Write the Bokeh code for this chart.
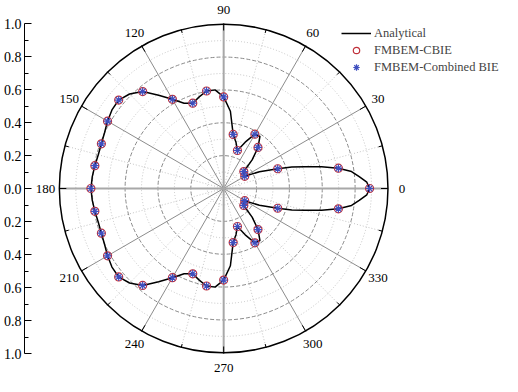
import numpy as np
from bokeh.plotting import figure
from bokeh.models import FixedTicker, CustomJSTickFormatter, Legend, LegendItem
from bokeh.core.properties import value
from bokeh.embed import file_html
from bokeh.resources import INLINE

# ---------------- data ----------------
# Analytical curve (angle in degrees, radius)
ana_deg = [0, 2.5, 5, 7.5, 10, 12.5, 15, 17.5, 20, 25, 30, 35, 40, 45, 50, 55, 60, 65,
           70, 75, 80, 85, 90, 95, 100, 105, 110, 115, 120, 125, 130, 135, 140, 145,
           150, 155, 160, 165, 170, 175, 180, 185, 190, 195, 200, 205, 210, 215, 220,
           225, 230, 235, 240, 245, 250, 255, 260, 265, 270, 275, 280, 285, 290, 295,
           300, 305, 310, 315, 320, 325, 330, 335, 340, 342.5, 345, 347.5, 350, 352.5,
           355, 357.5, 360]
ana_r = [0.888, 0.872, 0.828, 0.785, 0.709, 0.61, 0.51, 0.435, 0.35, 0.24, 0.15, 0.15,
         0.16, 0.245, 0.325, 0.385, 0.38, 0.31, 0.245, 0.29, 0.333, 0.47, 0.555, 0.60,
         0.60, 0.575, 0.55, 0.57, 0.624, 0.69, 0.767, 0.81, 0.834, 0.83, 0.816, 0.80,
         0.792, 0.79, 0.796, 0.803, 0.808, 0.803, 0.796, 0.79, 0.792, 0.80, 0.816, 0.83,
         0.834, 0.81, 0.767, 0.69, 0.624, 0.57, 0.55, 0.575, 0.60, 0.60, 0.555, 0.47,
         0.333, 0.29, 0.245, 0.31, 0.38, 0.385, 0.325, 0.245, 0.16, 0.15, 0.15, 0.24,
         0.35, 0.435, 0.51, 0.61, 0.709, 0.785, 0.828, 0.872, 0.888]

# Numerical results (same sampling for both methods)
num_deg = [0, 10, 20, 30, 40, 50, 60, 70, 80, 90, 100, 110, 120, 130, 140, 150, 160, 170,
           180, 190, 200, 210, 220, 230, 240, 250, 260, 270, 280, 290, 300, 310, 320,
           330, 340, 350]
cbie_r = [0.888, 0.709, 0.35, 0.148, 0.16, 0.325, 0.38, 0.245, 0.333, 0.555, 0.60, 0.55,
          0.624, 0.767, 0.834, 0.816, 0.792, 0.796, 0.808, 0.796, 0.792, 0.816, 0.834,
          0.767, 0.624, 0.55, 0.60, 0.555, 0.333, 0.245, 0.38, 0.325, 0.16, 0.148, 0.35,
          0.709]
comb_r = [0.888, 0.709, 0.35, 0.148, 0.16, 0.325, 0.38, 0.245, 0.333, 0.555, 0.60, 0.55,
          0.624, 0.767, 0.834, 0.816, 0.792, 0.796, 0.808, 0.796, 0.792, 0.816, 0.834,
          0.767, 0.624, 0.55, 0.60, 0.555, 0.333, 0.245, 0.38, 0.325, 0.16, 0.148, 0.35,
          0.709]

angle_ticks = [0, 30, 60, 90, 120, 150, 180, 210, 240, 270, 300, 330]
angle_labels = ["0", "30", "60", "90", "120", "150", "180", "210", "240", "270", "300", "330"]
radial_ticks = [-1.0, -0.8, -0.6, -0.4, -0.2, 0.0, 0.2, 0.4, 0.6, 0.8, 1.0]
radial_minor = [-0.9, -0.7, -0.5, -0.3, -0.1, 0.1, 0.3, 0.5, 0.7, 0.9]
grid_major = [0.2, 0.4, 0.6, 0.8]
grid_minor = [0.1, 0.3, 0.5, 0.7, 0.9]

FONT = "Liberation Serif"
PX = 165.0            # pixels per radial unit
CX, CY = 222.0, 188.0  # centre of the polar chart in canvas pixels
W, H = 502, 376
LEFT = 22

def to_xy(deg, r):
    t = np.deg2rad(np.asarray(deg, dtype=float))
    r = np.asarray(r, dtype=float)
    return r * np.cos(t), r * np.sin(t)

p = figure(width=W, height=H, output_backend="svg", toolbar_location=None,
           x_range=((LEFT - CX) / PX, (W - CX) / PX),
           y_range=(-(H - CY) / PX, CY / PX),
           x_axis_location=None, y_axis_location="left",
           min_border_left=LEFT, min_border_right=0, min_border_top=0, min_border_bottom=0)
p.outline_line_color = None
p.grid.visible = False
p.background_fill_color = "white"
p.border_fill_color = "white"

ya = p.yaxis[0]
ya.ticker = FixedTicker(ticks=radial_ticks, minor_ticks=radial_minor)
ya.formatter = CustomJSTickFormatter(code="return Math.abs(tick).toFixed(1);")
ya.bounds = (-1, 1)
ya.major_tick_in = 7
ya.major_tick_out = 0
ya.minor_tick_in = 4
ya.minor_tick_out = 0
ya.major_label_standoff = 3
ya.major_label_text_font = FONT
ya.major_label_text_font_size = "14px"
ya.major_label_text_color = "black"
ya.axis_line_color = "black"
ya.major_tick_line_color = "black"
ya.minor_tick_line_color = "black"

# radial grid circles
for r in grid_minor:
    p.circle(x=0, y=0, radius=r, fill_color=None, line_color="#c4c4c4",
             line_width=1, line_dash="1 2")
for r in grid_major:
    p.circle(x=0, y=0, radius=r, fill_color=None, line_color="#8a8a8a",
             line_width=1, line_dash="4 2")

# spokes
minor_sp = [a + 15 for a in angle_ticks]
n = len(minor_sp)
x1, y1 = to_xy(minor_sp, [1.0] * n)
p.segment(x0=[0] * n, y0=[0] * n, x1=x1, y1=y1,
          line_color="#c4c4c4", line_width=1, line_dash="1 2")
diag = [a for a in angle_ticks if a % 90 != 0]
x1, y1 = to_xy(diag, [1.0] * len(diag))
p.segment(x0=[0] * len(diag), y0=[0] * len(diag), x1=x1, y1=y1,
          line_color="#8c8c8c", line_width=1)
axes4 = [a for a in angle_ticks if a % 90 == 0]
x1, y1 = to_xy(axes4, [1.0] * len(axes4))
p.segment(x0=[0] * len(axes4), y0=[0] * len(axes4), x1=x1, y1=y1,
          line_color="#a8a8a8", line_width=2)

# outer circle + ticks
p.circle(x=0, y=0, radius=1.0, fill_color=None, line_color="black", line_width=1.5)
x0, y0 = to_xy(angle_ticks, [1.0] * len(angle_ticks))
x1, y1 = to_xy(angle_ticks, [1.0 - 7 / PX] * len(angle_ticks))
p.segment(x0=x0, y0=y0, x1=x1, y1=y1, line_color="black", line_width=1)
x0, y0 = to_xy(minor_sp, [1.0] * n)
x1, y1 = to_xy(minor_sp, [1.0 - 4 / PX] * n)
p.segment(x0=x0, y0=y0, x1=x1, y1=y1, line_color="black", line_width=1)

# angle labels
lx, ly = to_xy(angle_ticks, [1.0 + 14 / PX] * len(angle_ticks))
p.text(x=lx, y=ly, text=angle_labels, text_align="center", text_baseline="middle",
       text_font=value(FONT), text_font_size="13px", text_color="black")

# data
ax, ay = to_xy(ana_deg, ana_r)
line_r = p.line(ax, ay, line_color="black", line_width=1.5)
cx, cy = to_xy(num_deg, cbie_r)
circ_r = p.scatter(cx, cy, marker="circle", size=8, fill_color=None,
                   line_color="#c0303a", line_width=1.2)
bx, by = to_xy(num_deg, comb_r)
ast_r = p.scatter(bx, by, marker="asterisk", size=8, line_color="#3f4fbf", line_width=1.2)

legend = Legend(items=[LegendItem(label="Analytical", renderers=[line_r]),
                       LegendItem(label="FMBEM-CBIE", renderers=[circ_r]),
                       LegendItem(label="FMBEM-Combined BIE", renderers=[ast_r])],
                location=(317, 301), padding=0, spacing=1, margin=0,
                glyph_width=30, glyph_height=16, label_height=16, label_standoff=3,
                label_text_font=FONT, label_text_font_size="12.5px",
                background_fill_alpha=0, border_line_alpha=0)
p.add_layout(legend)

open("out.html", "w").write(file_html(p, INLINE))
